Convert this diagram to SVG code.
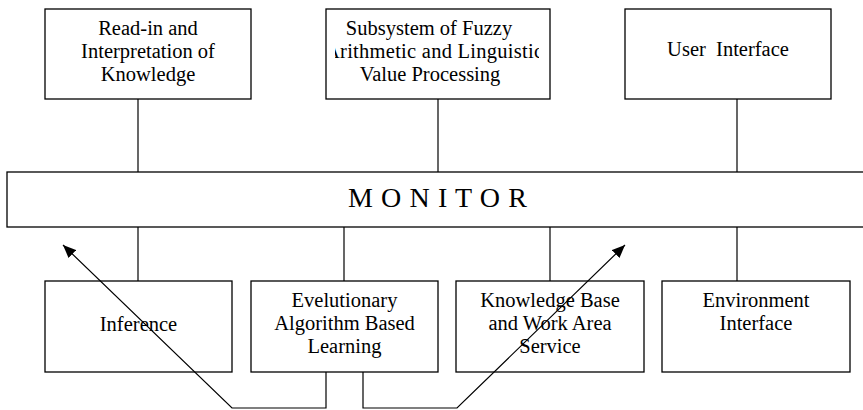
<svg xmlns="http://www.w3.org/2000/svg" width="863" height="410" viewBox="0 0 863 410">
<style>
.box{fill:#fff;stroke:#000;stroke-width:1.3}
.ln{fill:none;stroke:#000;stroke-width:1.2}
text{font-family:"Liberation Serif","Times New Roman","DejaVu Serif",serif;font-size:20.5px;fill:#000}
.c{text-anchor:middle}
.mon{font-size:28px}
</style>
<defs>
<marker id="ah" viewBox="0 0 13 11" refX="13" refY="5.5" markerWidth="13" markerHeight="11" markerUnits="userSpaceOnUse" orient="auto">
<path d="M0,0 L13,5.5 L0,11 z" fill="#000"/>
</marker>
<clipPath id="clip2"><rect x="335" y="9" width="204" height="90"/></clipPath>
</defs>
<g id="connectors">
<line class="ln" x1="138" y1="99" x2="138" y2="172"/>
<line class="ln" x1="438" y1="99" x2="438" y2="172"/>
<line class="ln" x1="737" y1="99" x2="737" y2="172"/>
<line class="ln" x1="138" y1="227" x2="138" y2="281"/>
<line class="ln" x1="344" y1="227" x2="344" y2="281"/>
<line class="ln" x1="550" y1="227" x2="550" y2="281"/>
<line class="ln" x1="737" y1="227" x2="737" y2="281"/>
</g>
<g id="monitor">
<rect class="box" x="7" y="172" width="870" height="55"/>
<text class="mon" x="348" y="207" textLength="179">M O N I T O R</text>
</g>
<g id="readin">
<rect class="box" x="45" y="9" width="206" height="90"/>
<text class="c" x="148" y="35">Read-in and</text>
<text class="c" x="148" y="58">Interpretation of</text>
<text class="c" x="148" y="81">Knowledge</text>
</g>
<g id="fuzzy">
<rect class="box" x="326" y="9" width="224" height="90"/>
<text class="c" x="429" y="35">Subsystem of Fuzzy</text>
<text x="325" y="58" clip-path="url(#clip2)" textLength="218">Arithmetic and Linguistic</text>
<text class="c" x="430" y="81">Value Processing</text>
</g>
<g id="user">
<rect class="box" x="625" y="9" width="206" height="90"/>
<text class="c" x="728" y="56" xml:space="preserve">User  Interface</text>
</g>
<g id="inference">
<rect class="box" x="45" y="281" width="187" height="91"/>
<text class="c" x="138.5" y="331">Inference</text>
</g>
<g id="evolutionary">
<rect class="box" x="251" y="281" width="187" height="91"/>
<text class="c" x="344.5" y="307">Evelutionary</text>
<text class="c" x="344.5" y="330">Algorithm Based</text>
<text class="c" x="344.5" y="353">Learning</text>
</g>
<g id="kb">
<rect class="box" x="456" y="281" width="188" height="91"/>
<text class="c" x="550" y="307">Knowledge Base</text>
<text class="c" x="550" y="330">and Work Area</text>
<text class="c" x="550" y="353">Service</text>
</g>
<g id="environment">
<rect class="box" x="662" y="281" width="188" height="91"/>
<text class="c" x="756" y="307">Environment</text>
<text class="c" x="756" y="330">Interface</text>
</g>
<g id="arrows">
<polyline class="ln" points="326,372 326,408 232,408 63,245" marker-end="url(#ah)"/>
<polyline class="ln" points="363,372 363,408 457,408 625,245" marker-end="url(#ah)"/>
</g>
</svg>
